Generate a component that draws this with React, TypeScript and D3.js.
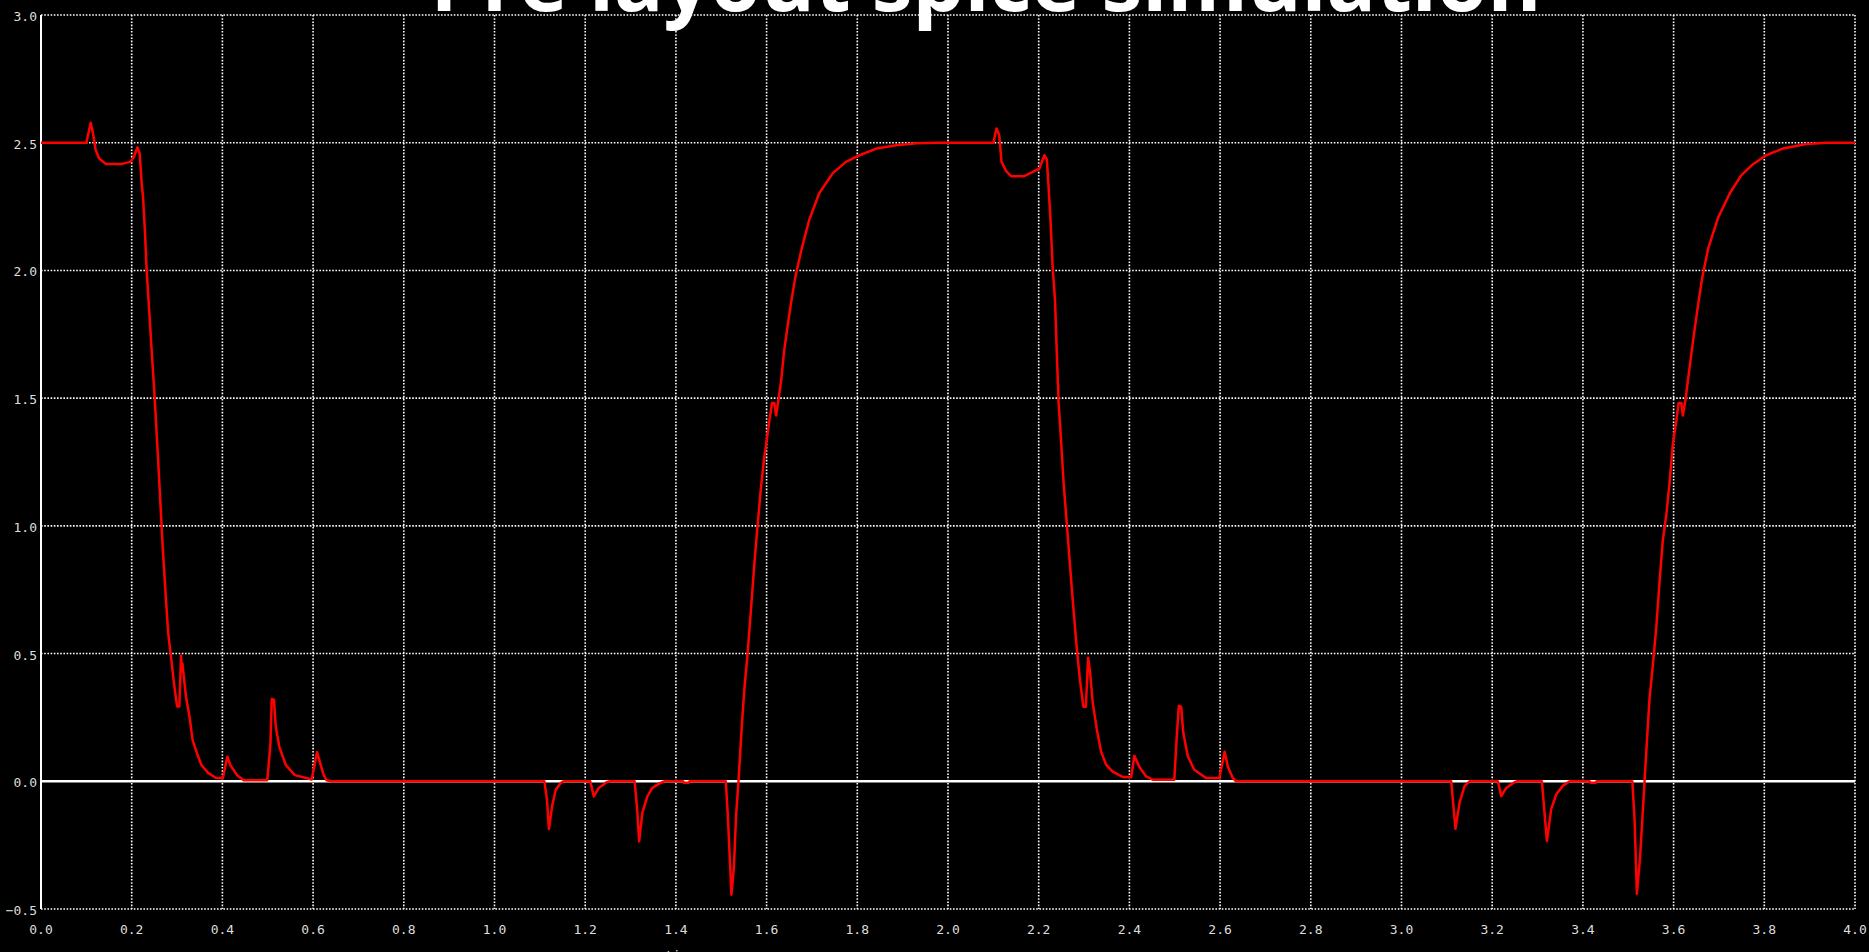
import React, { useEffect, useRef } from "react";
import * as d3 from "d3";

// chart text
const chartTitle = "Pre layout spice simulation";
const xAxisLabel = "time";

// tick values
const xTicks = [0, 0.2, 0.4, 0.6, 0.8, 1.0, 1.2, 1.4, 1.6, 1.8, 2.0, 2.2, 2.4, 2.6, 2.8, 3.0, 3.2, 3.4, 3.6, 3.8, 4.0];
const yTicks = [-0.5, 0, 0.5, 1.0, 1.5, 2.0, 2.5, 3.0];

// waveform (time, volts)
const times = [
  0, 0.1, 0.1044, 0.1096, 0.1147, 0.1206, 0.128, 0.1426, 0.179, 0.198, 0.205, 0.2125, 0.2176, 0.222, 0.225,
  0.2294, 0.233, 0.238, 0.2434, 0.25, 0.257, 0.263, 0.2686, 0.2755, 0.2804, 0.2873, 0.2931, 0.3, 0.305,
  0.3088, 0.3105, 0.312, 0.3196, 0.3275, 0.3343, 0.344, 0.354, 0.3686, 0.3853, 0.401, 0.4108, 0.4176,
  0.4324, 0.447, 0.499, 0.506, 0.5088, 0.5137, 0.5176, 0.5255, 0.54, 0.5598, 0.597, 0.6088, 0.6157, 0.6235,
  0.63, 0.64, 1.11, 1.1157, 1.12, 1.127, 1.135, 1.146, 1.152, 1.211, 1.219, 1.23, 1.247, 1.255, 1.309,
  1.3146, 1.319, 1.326, 1.337, 1.348, 1.365, 1.375, 1.416, 1.418, 1.428, 1.43, 1.51, 1.5146, 1.5225, 1.528,
  1.5326, 1.538, 1.5455, 1.551, 1.558, 1.565, 1.573, 1.58, 1.5875, 1.595, 1.6, 1.606, 1.612, 1.617, 1.621,
  1.6265, 1.632, 1.639, 1.646, 1.654, 1.663, 1.676, 1.694, 1.716, 1.746, 1.775, 1.805, 1.842, 1.886, 1.93,
  1.974, 2.1, 2.107, 2.113, 2.118, 2.128, 2.139, 2.168, 2.187, 2.2015, 2.2125, 2.218, 2.222, 2.226, 2.231,
  2.236, 2.24, 2.244, 2.249, 2.255, 2.262, 2.268, 2.275, 2.284, 2.291, 2.2985, 2.304, 2.309, 2.313, 2.319,
  2.328, 2.3375, 2.3485, 2.363, 2.385, 2.404, 2.411, 2.422, 2.437, 2.4515, 2.499, 2.504, 2.509, 2.514,
  2.519, 2.529, 2.543, 2.569, 2.5985, 2.61, 2.617, 2.628, 2.635, 3.1096, 3.119, 3.128, 3.139, 3.15, 3.2125,
  3.22, 3.231, 3.249, 3.255, 3.3096, 3.3206, 3.33, 3.341, 3.356, 3.371, 3.415, 3.417, 3.428, 3.43, 3.509,
  3.514, 3.519, 3.526, 3.536, 3.541, 3.547, 3.554, 3.562, 3.569, 3.576, 3.584, 3.591, 3.5985, 3.606, 3.611,
  3.617, 3.6205, 3.6265, 3.634, 3.643, 3.654, 3.663, 3.676, 3.698, 3.724, 3.749, 3.775, 3.804, 3.841, 3.893,
  3.937, 4.0,
];
const volts = [
  2.5, 2.5, 2.536, 2.578, 2.536, 2.471, 2.439, 2.417, 2.417, 2.426, 2.445, 2.482, 2.458, 2.341, 2.289,
  2.146, 2.0, 1.859, 1.703, 1.52, 1.3, 1.1, 0.909, 0.713, 0.581, 0.476, 0.385, 0.293, 0.293,
  0.492, 0.43, 0.46, 0.332, 0.253, 0.161, 0.109, 0.063, 0.033, 0.014, 0.012, 0.096, 0.063,
  0.024, 0.004, 0.004, 0.148, 0.322, 0.319, 0.214, 0.135, 0.063, 0.024, 0.007, 0.115, 0.07, 0.024,
  0.004, 0, 0, -0.072, -0.187, -0.098, -0.033, -0.007, 0, 0, -0.059, -0.026, -0.004, 0, 0,
  -0.111, -0.235, -0.124, -0.059, -0.026, -0.007, 0, 0, -0.006, -0.006, 0, 0, -0.137, -0.444, -0.333,
  -0.137, 0, 0.222, 0.362, 0.5, 0.659, 0.851, 1.0, 1.149, 1.271, 1.332, 1.411, 1.481, 1.481, 1.432,
  1.498, 1.568, 1.69, 1.778, 1.874, 1.97, 2.075, 2.198, 2.302, 2.381, 2.425, 2.451, 2.477, 2.49, 2.498,
  2.5, 2.5, 2.556, 2.53, 2.425, 2.39, 2.369, 2.369, 2.386, 2.399, 2.451, 2.434, 2.32, 2.198, 2.005,
  1.883, 1.673, 1.48, 1.341, 1.166, 1.008, 0.868, 0.71, 0.518, 0.396, 0.292, 0.292, 0.484, 0.432, 0.31,
  0.205, 0.117, 0.065, 0.038, 0.017, 0.017, 0.1, 0.056, 0.019, 0.006, 0.006, 0.162, 0.295, 0.292,
  0.188, 0.097, 0.045, 0.013, 0.013, 0.116, 0.058, 0.013, 0, 0, -0.186, -0.084, -0.019, 0, 0,
  -0.058, -0.026, -0.004, 0, 0, -0.234, -0.11, -0.052, -0.017, 0, 0, -0.006, -0.006, 0, 0,
  -0.15, -0.44, -0.3, 0, 0.152, 0.327, 0.449, 0.607, 0.781, 0.939, 1.044, 1.166, 1.323, 1.411, 1.481,
  1.481, 1.432, 1.498, 1.603, 1.726, 1.865, 1.97, 2.084, 2.206, 2.302, 2.372, 2.416, 2.451, 2.477, 2.495,
  2.5, 2.5,
];

const W = 1869;
const H = 952;
const margin = { top: 15, right: 14, bottom: 43, left: 41 };

export default function App() {
  const ref = useRef<SVGSVGElement>(null);

  useEffect(() => {
    document.body.style.margin = "0";
    document.body.style.background = "#000";
    document.body.style.overflow = "hidden";

    const svg = d3.select(ref.current);
    svg.selectAll("*").remove();

    svg.append("rect").attr("width", W).attr("height", H).attr("fill", "#000");

    const x = d3.scaleLinear().domain([0, 4]).range([margin.left, W - margin.right]);
    const y = d3.scaleLinear().domain([-0.5, 3]).range([H - margin.bottom, margin.top]);

    const tickFont = "'DejaVu Sans Mono', monospace";

    // dotted grid
    const grid = svg.append("g").attr("stroke", "#fff").attr("stroke-width", 1.6).attr("stroke-dasharray", "1.6,1.6");
    grid.selectAll("line.v").data(xTicks.filter((d) => d > 0)).enter().append("line")
      .attr("x1", (d) => x(d)).attr("x2", (d) => x(d))
      .attr("y1", y(3)).attr("y2", y(-0.5));
    grid.selectAll("line.h").data(yTicks.filter((d) => d !== 0)).enter().append("line")
      .attr("x1", x(0)).attr("x2", x(4))
      .attr("y1", (d) => y(d)).attr("y2", (d) => y(d));

    // solid axes
    svg.append("line").attr("x1", x(0)).attr("x2", x(0)).attr("y1", y(3)).attr("y2", y(-0.5))
      .attr("stroke", "#fff").attr("stroke-width", 2);
    svg.append("line").attr("x1", x(0)).attr("x2", x(4)).attr("y1", y(0)).attr("y2", y(0))
      .attr("stroke", "#fff").attr("stroke-width", 2.5);

    // tick labels
    const fmt = d3.format(".1f");
    svg.append("g").selectAll("text").data(yTicks).enter().append("text")
      .attr("x", x(0) - 4).attr("y", (d) => y(d) + 6)
      .attr("text-anchor", "end").attr("fill", "#ddd")
      .attr("font-family", tickFont).attr("font-size", 13)
      .text((d) => fmt(d));
    svg.append("g").selectAll("text").data(xTicks).enter().append("text")
      .attr("x", (d) => x(d)).attr("y", y(-0.5) + 25)
      .attr("text-anchor", "middle").attr("fill", "#ddd")
      .attr("font-family", tickFont).attr("font-size", 13)
      .text((d) => fmt(d));

    // waveform
    const pts: [number, number][] = times.map((t, i) => [t, volts[i]]);
    const line = d3.line<[number, number]>().x((d) => x(d[0])).y((d) => y(d[1]));
    svg.append("path").datum(pts).attr("d", line)
      .attr("fill", "none").attr("stroke", "#ff0000").attr("stroke-width", 2.5)
      .attr("stroke-linejoin", "round");

    // axis label (cut off at bottom edge, as in the original)
    svg.append("text").attr("x", 665).attr("y", 960).attr("fill", "#ddd")
      .attr("font-family", tickFont).attr("font-size", 13).text(xAxisLabel);

    // title (runs off the top edge, as in the original)
    svg.append("text").attr("x", 986).attr("y", 11).attr("text-anchor", "middle")
      .attr("fill", "#fff").attr("font-family", "'Open Sans', sans-serif")
      .attr("font-weight", 700).attr("font-size", 82).text(chartTitle);
  }, []);

  return (
    <svg ref={ref} width={W} height={H} style={{ display: "block", position: "absolute", left: 0, top: 0 }} />
  );
}
